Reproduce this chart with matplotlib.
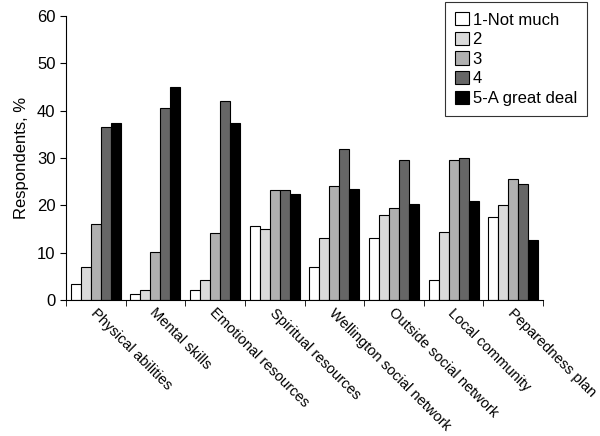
import numpy as np
import matplotlib
matplotlib.use("Agg")
import matplotlib.pyplot as plt
from matplotlib.ticker import FixedLocator

plt.rcParams['font.family'] = ['Liberation Sans', 'DejaVu Sans']

categories = ["Physical abilities", "Mental skills", "Emotional resources",
              "Spiritual resources", "Wellington social network",
              "Outside social network", "Local community", "Peparedness plan"]
levels = ["1-Not much", "2", "3", "4", "5-A great deal"]

not_much = [3.3, 1.2, 2.2, 15.6, 7.0, 13.2, 4.3, 17.5]
level2 = [7.0, 2.2, 4.2, 15.0, 13.0, 18.0, 14.3, 20.0]
level3 = [16.0, 10.2, 14.2, 23.2, 24.0, 19.5, 29.5, 25.5]
level4 = [36.5, 40.5, 42.0, 23.2, 32.0, 29.5, 30.0, 24.5]
great_deal = [37.5, 45.0, 37.5, 22.3, 23.4, 20.2, 21.0, 12.6]

series = [not_much, level2, level3, level4, great_deal]
colors = ["white", "#dadada", "#b0b0b0", "#666666", "black"]

fig = plt.figure(figsize=(6, 4.36), dpi=100)
ax = fig.add_axes([0.11, 0.312, 0.795, 0.651])

x = np.arange(len(categories))
w = 0.168
for i, (vals, c, lab) in enumerate(zip(series, colors, levels)):
    ax.bar(x + (i - 2) * w, vals, width=w, color=c, edgecolor="black",
           linewidth=0.8, label=lab)

ax.set_xlim(-0.5, len(categories) - 0.5)
ax.set_ylim(0, 60)
ax.set_yticks(range(0, 61, 10))
ax.tick_params(axis='y', labelsize=12, direction='out', length=4)
ax.set_ylabel("Respondents, %", fontsize=12, labelpad=6)

ax.set_xticks(x)
ax.set_xticklabels([])
ax.tick_params(axis='x', which='major', length=0)
ax.xaxis.set_minor_locator(FixedLocator(np.arange(-0.5, len(categories), 1)))
ax.tick_params(axis='x', which='minor', length=4, direction='out')

# slanted category labels hanging from each group centre
for xi, name in zip(x, categories):
    ax.text(xi + 0.03, -1.2, name, rotation=-45, rotation_mode='anchor',
            ha='left', va='top', fontsize=10.5, transform=ax.transData)

ax.spines['top'].set_visible(False)
ax.spines['right'].set_visible(False)

leg = ax.legend(loc='upper right', bbox_to_anchor=(0.978, 0.995),
                bbox_transform=fig.transFigure, borderaxespad=0,
                fontsize=12, frameon=True,
                fancybox=False, edgecolor="black", handlelength=0.85,
                handleheight=0.85, handletextpad=0.2, labelspacing=0.25,
                borderpad=0.6)
leg.get_frame().set_linewidth(0.8)

fig.savefig("out.png", dpi=100)
